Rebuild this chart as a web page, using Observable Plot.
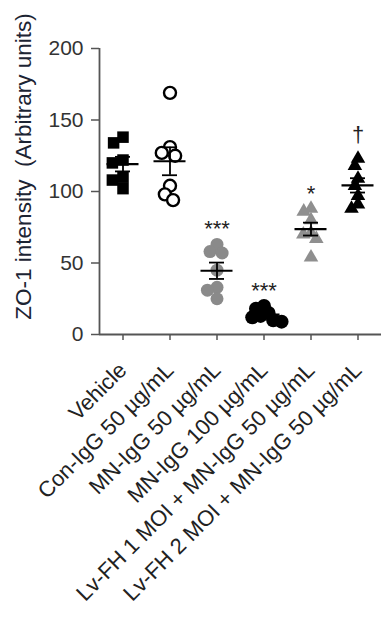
<!DOCTYPE html>
<html><head><meta charset="utf-8">
<script src="https://cdn.jsdelivr.net/npm/d3@7"></script>
<script src="https://cdn.jsdelivr.net/npm/@observablehq/plot@0.6"></script>
<style>body{margin:0;background:#fff}</style>
</head><body><div id="chart"></div>
<script>
const groups = ["Vehicle","Con-IgG 50 µg/mL","MN-IgG 50 µg/mL","MN-IgG 100 µg/mL","Lv-FH 1 MOI + MN-IgG 50 µg/mL","Lv-FH 2 MOI + MN-IgG 50 µg/mL"];
const vehicle = [138,134,122,120,110,108,102];
const conIgG = [169,131,127,125,104,98,94];
const mn50 = [63,58,57,45,33,31,25];
const mn100 = [20,18,15,13,12,10,9];
const lv1 = [88,86,80,71,70,67,54];
const lv2 = [123,118,109,104,97,91,88];
const series = [vehicle, conIgG, mn50, mn100, lv1, lv2];
const symbols = ["square","circle","circle","circle","triangle","triangle"];
const fills = ["#000","#fff","#8a8a8a","#000","#8f8f8f","#000"];
const strokes = ["none","#000","none","none","none","none"];
const sizes = [6.5,6,6.5,7,5.4,5.4];
const paddings = [-2,-2,-3,-5.5,-3,-3];
const sigLabels = ["","","***","***","*","†"];
const yTicks = [0,50,100,150,200];

const rows = groups.flatMap((g,i)=>series[i].map(v=>({g,v})));
const stats = groups.map((g,i)=>{
  const a = series[i];
  const m = d3.mean(a), se = d3.deviation(a)/Math.sqrt(a.length);
  return {g, mean:m, lo:m-se, hi:m+se, max:d3.max(a), sig:sigLabels[i]};
});

const dotMarks = groups.map((g,i)=>Plot.dot(rows.filter(d=>d.g===g),
  Plot.dodgeX({anchor:"middle", padding:paddings[i]}, {fx:"g", y:"v", r:sizes[i], symbol:symbols[i],
    fill:fills[i], stroke:strokes[i], strokeWidth:2.4})));

const chart = Plot.plot({
  width:383, height:641,
  marginLeft:97, marginRight:0, marginTop:48, marginBottom:307,
  style:{fontFamily:"'Liberation Sans', Arial, sans-serif", background:"#fff", fontSize:"21px"},
  fx:{domain:groups, paddingInner:0, paddingOuter:0, label:null},
  x:{domain:[0,1], axis:null},
  y:{domain:[0,200], axis:null},
  marks:[
    Plot.axisY({ticks:yTicks, tickSize:8, tickPadding:8, fontSize:21, color:"#333", stroke:"#555", strokeWidth:1.5, label:null}),
    Plot.axisFx({anchor:"bottom", tickRotate:-45, tickSize:6, tickPadding:26, fontSize:22, color:"#222", stroke:"#555", strokeWidth:1.5, label:null}),
    Plot.ruleY([0], {stroke:"#555", strokeWidth:1.8}),
    Plot.ruleX([0], {fx:()=>groups[0], y1:0, y2:200, stroke:"#555", strokeWidth:1.8}),
    Plot.text(["ZO-1 intensity  (Arbitrary units)"], {fx:()=>groups[0], frameAnchor:"left", textAnchor:"middle", rotate:-90, dx:-76, dy:-25, fontSize:22.5, fill:"#1c2433", text:d=>d}),
    ...dotMarks,
    Plot.tickY(stats, {fx:"g", y:"mean", stroke:"#000", strokeWidth:2.2, insetLeft:7.5, insetRight:7.5}),
    Plot.ruleX(stats, {fx:"g", x:()=>0.5, y1:"lo", y2:"hi", stroke:"#000", strokeWidth:1.8}),
    Plot.tickY(stats, {fx:"g", y:"lo", stroke:"#000", strokeWidth:1.8, insetLeft:16, insetRight:16}),
    Plot.tickY(stats, {fx:"g", y:"hi", stroke:"#000", strokeWidth:1.8, insetLeft:16, insetRight:16}),
    Plot.text(stats.filter(d=>d.sig.includes("*")), {fx:"g", x:()=>0.5, y:"max", text:"sig", dy:-8, lineAnchor:"bottom", fontSize:22, fill:"#222"}),
    Plot.text(stats.filter(d=>d.sig==="†"), {fx:"g", x:()=>0.5, y:"max", text:"sig", dy:-17, lineAnchor:"bottom", fontSize:22, fill:"#222"})
  ]
});
document.getElementById("chart").append(chart);
</script></body></html>
